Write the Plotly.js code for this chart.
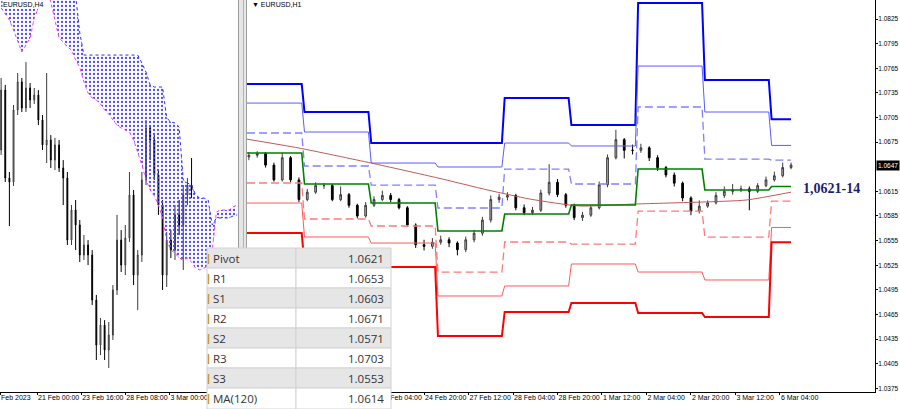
<!DOCTYPE html>
<html><head><meta charset="utf-8">
<script src="https://cdn.plot.ly/plotly-3.0.1.min.js"></script>
<style>html,body{margin:0;padding:0;background:#fff;}#chart{width:900px;height:409px;}</style>
</head><body><div id="chart"></div>
<script>
// ---------- Left panel: EURUSD H4 (bar index, 0 = 21 Feb 00:00) ----------
const h4Index = [-13,-11.5,-10,-8.5,-7,-5.5,-4,-2.5,-1,0.5,2,3.5,5,6.5,8,9.5,11,12.5,14,15.5,17,18.5,20,21.5,23,24.5,26,27.5,29,30.5,32,33.5,35,36.5,38,39.5,41,42.5,44,45.5,47,48.5,50,51.5,53,54.5,56];
const h4Open  = [1.06724,1.07101,1.06548,1.06523,1.06976,1.07152,1.06988,1.07114,1.07038,1.0707,1.06913,1.06756,1.06787,1.06661,1.06756,1.06611,1.06548,1.06158,1.06347,1.06253,1.06064,1.06127,1.06064,1.05781,1.05498,1.05624,1.05467,1.05561,1.05844,1.06158,1.06001,1.06171,1.06441,1.05938,1.06064,1.06536,1.06862,1.06787,1.06567,1.06378,1.05938,1.06158,1.06095,1.06316,1.06253,1.06441,1.06504];
const h4High  = [1.07177,1.07133,1.06586,1.07007,1.07208,1.07177,1.07277,1.07145,1.07114,1.07101,1.06944,1.07208,1.06818,1.068,1.06787,1.06661,1.06586,1.06378,1.0641,1.06284,1.0619,1.06158,1.06095,1.05813,1.05668,1.05655,1.05643,1.05875,1.06316,1.06221,1.06253,1.06586,1.06473,1.06095,1.06586,1.06913,1.06881,1.06818,1.06598,1.0641,1.06209,1.06221,1.06378,1.0641,1.06504,1.06548,1.06674];
const h4Low   = [1.06693,1.06523,1.06246,1.06498,1.06944,1.06963,1.06963,1.06988,1.07013,1.06881,1.06724,1.06642,1.06611,1.06598,1.06586,1.06378,1.06127,1.06127,1.06095,1.0602,1.06033,1.06001,1.0575,1.05404,1.05435,1.05404,1.05354,1.0553,1.05813,1.05957,1.05938,1.06146,1.05875,1.05718,1.0602,1.06504,1.06661,1.06536,1.06316,1.05844,1.05863,1.06045,1.06033,1.0619,1.0597,1.06378,1.06422];
const h4Close = [1.07101,1.06548,1.06523,1.06976,1.07152,1.06988,1.07114,1.07038,1.0707,1.06913,1.06756,1.06787,1.06661,1.06756,1.06611,1.06548,1.06158,1.06347,1.06253,1.06064,1.06127,1.06064,1.05781,1.05498,1.05624,1.05467,1.05561,1.05844,1.06158,1.06001,1.06171,1.06441,1.05938,1.06064,1.06536,1.06862,1.06787,1.06567,1.06378,1.05938,1.06158,1.06095,1.06316,1.06253,1.06441,1.06504,1.06473];

// Ichimoku cloud (Senkou Span B upper, Span A lower)
const cloudIndex = [-13,-11.5,-10,-8.5,-7,-5.5,-4,-2.5,-1,0.5,2,3.5,5,6.5,8,9.5,11,12.5,14,15.5,17,18.5,20,21.5,23,24.5,26,27.5,29,30.5,32,33.5,35,36.5,38,39.5,41,42.5,44,45.5,47,48.5,50,51.5,53,54.5,56,57.5,59,60.5,62,63.5,65,66.5,68,69.5,71,72.5];
const spanB = [1.07856,1.07856,1.07856,1.07856,1.07856,1.07856,1.07856,1.07856,1.07856,1.07856,1.07856,1.07856,1.07856,1.07856,1.07856,1.07856,1.07856,1.07856,1.07698,1.0746,1.07321,1.07321,1.07321,1.07321,1.07321,1.07321,1.07321,1.07321,1.07321,1.07321,1.07321,1.07321,1.07321,1.07321,1.07271,1.07214,1.07133,1.0712,1.0712,1.0712,1.06925,1.069,1.06894,1.06869,1.06536,1.06517,1.06504,1.06441,1.06422,1.06422,1.0641,1.06253,1.06297,1.06297,1.06297,1.06297,1.06309,1.06316];
const spanA = [1.07617,1.07579,1.07541,1.07478,1.07403,1.0734,1.07384,1.07428,1.07554,1.07617,1.07654,1.0773,1.07654,1.07541,1.07428,1.07403,1.07372,1.07353,1.0729,1.07242,1.07152,1.07082,1.07051,1.07038,1.07013,1.06976,1.0695,1.06913,1.06881,1.06862,1.0685,1.06837,1.06787,1.06712,1.0663,1.06536,1.06473,1.06435,1.06378,1.06297,1.06158,1.06095,1.06077,1.06045,1.06033,1.06045,1.0602,1.05982,1.0597,1.05982,1.05995,1.06095,1.06334,1.06347,1.06347,1.06347,1.06366,1.06378];

const h4TickVals = [-13.38, 0, 16, 32, 48];
const h4TickText = ['Feb 2023', '21 Feb 00:00', '23 Feb 16:00', '28 Feb 08:00', '3 Mar 00:00'];

// ---------- Right panel: EURUSD H1 (hour index, 0 = 22 Feb 00:00) ----------
const h1Time  = [5,8,11,14,17,20,23,26,29,32,35,38,41,44,47,50,53,56,59,62,65,68,71,74,77,80,83,86,89,92,95,98,101,104,107,110,113,116,119,122,125,128,131,134,137,140,143,146,149,152,155,158,161,164,167,170,173,176,179,182,185,188,191,194,197,200];
const h1Open  = [1.0657,1.0659,1.0661,1.0647,1.0629,1.0656,1.0629,1.0605,1.0614,1.0622,1.0622,1.0605,1.0611,1.0598,1.0585,1.0598,1.0605,1.0610,1.0605,1.0595,1.0574,1.0550,1.0548,1.0553,1.0556,1.0552,1.0544,1.0556,1.0564,1.0580,1.0605,1.0608,1.0610,1.0595,1.0589,1.0592,1.0613,1.0626,1.0611,1.0598,1.0583,1.0586,1.0595,1.0623,1.0656,1.0678,1.0665,1.0665,1.0668,1.0656,1.0644,1.0635,1.0625,1.0607,1.0591,1.0597,1.0601,1.0610,1.0615,1.0617,1.0618,1.0615,1.0622,1.0629,1.0634,1.0644];
const h1High  = [1.0663,1.0664,1.0663,1.0650,1.0662,1.0658,1.0632,1.0618,1.0626,1.0625,1.0624,1.0621,1.0613,1.0600,1.0602,1.0609,1.0616,1.0613,1.0607,1.0597,1.0576,1.0556,1.0558,1.0561,1.0559,1.0554,1.0560,1.0568,1.0584,1.0610,1.0612,1.0614,1.0612,1.0599,1.0596,1.0617,1.0648,1.0630,1.0613,1.0600,1.0590,1.0598,1.0627,1.0660,1.0690,1.0680,1.0672,1.0673,1.0670,1.0659,1.0646,1.0638,1.0627,1.0609,1.0604,1.0604,1.0614,1.0621,1.0624,1.0622,1.0621,1.0625,1.0633,1.0639,1.0650,1.0650];
const h1Low   = [1.0653,1.0656,1.0644,1.0627,1.0627,1.0626,1.0602,1.0603,1.0612,1.0618,1.0603,1.0603,1.0595,1.0582,1.0583,1.0596,1.0603,1.0602,1.0593,1.0572,1.0546,1.0543,1.0545,1.0550,1.0547,1.0537,1.0541,1.0553,1.0561,1.0577,1.0601,1.0604,1.0592,1.0586,1.0586,1.0590,1.0610,1.0608,1.0595,1.0580,1.0579,1.0584,1.0593,1.0620,1.0654,1.0655,1.0660,1.0662,1.0652,1.0640,1.0632,1.0621,1.0603,1.0586,1.0588,1.0595,1.0599,1.0607,1.0611,1.0614,1.0592,1.0613,1.0620,1.0627,1.0632,1.0642];
const h1Close = [1.0659,1.0661,1.0647,1.0629,1.0656,1.0629,1.0605,1.0614,1.0622,1.0622,1.0605,1.0611,1.0598,1.0585,1.0598,1.0605,1.0610,1.0605,1.0595,1.0574,1.0550,1.0548,1.0553,1.0556,1.0552,1.0544,1.0556,1.0564,1.0580,1.0605,1.0608,1.0610,1.0595,1.0589,1.0592,1.0613,1.0626,1.0611,1.0598,1.0583,1.0586,1.0595,1.0623,1.0656,1.0678,1.0665,1.0665,1.0668,1.0656,1.0644,1.0635,1.0625,1.0607,1.0591,1.0597,1.0601,1.0610,1.0615,1.0617,1.0618,1.0615,1.0622,1.0629,1.0634,1.0644,1.0647];

// Daily pivot levels (22 Feb, 23 Feb, 24 Feb, 27 Feb, 28 Feb, 1 Mar, 2 Mar, 3 Mar, 6 Mar)
const dayStart = [0, 24, 48, 72, 96, 120, 144, 168, 192];
const levelEnd = 200;
const R3 = [1.07458,1.07117,1.06739,1.06739,1.07287,1.06958,1.08445,1.07507,1.0703];
const R2 = [1.07226,1.06873,1.06495,1.06447,1.06739,1.06703,1.07677,1.07117,1.0671];
const R1 = [1.06861,1.06459,1.06227,1.05947,1.06422,1.0624,1.07178,1.06544,1.0653];
const PP = [1.06617,1.0624,1.06008,1.05667,1.05874,1.05983,1.06422,1.06166,1.0621];
const S1 = [1.06252,1.05813,1.05728,1.05167,1.05533,1.05508,1.0591,1.05592,1.0603];
const S2 = [1.06008,1.05594,1.0552,1.04875,1.04997,1.05265,1.05167,1.0507,1.0571];
const S3 = [1.05642,1.05253,1.05228,1.04387,1.0468,1.04789,1.04668,1.04619,1.0553];

// MA(120)
const maTime  = [4, 23, 49, 73, 91, 106, 124, 144, 168, 184, 200];
const maValue = [1.06788,1.06678,1.06495,1.06313,1.06166,1.06057,1.05972,1.05996,1.0602,1.06045,1.0614];

const h1TickVals = [52, 68, 84, 100, 116, 132, 148, 164, 180, 196];
const h1TickText = ['24 Feb 04:00','24 Feb 20:00','27 Feb 12:00','28 Feb 04:00','28 Feb 20:00','1 Mar 12:00','2 Mar 04:00','2 Mar 20:00','3 Mar 12:00','6 Mar 04:00'];
const priceTicks = [1.0375,1.0405,1.0435,1.0465,1.0495,1.0525,1.0555,1.0585,1.0615,1.0675,1.0705,1.0735,1.0765,1.0795,1.0825];

// Info table
const tableLabels = ['Pivot','R1','S1','R2','S2','R3','S3','MA(120)'];
const tableValues = ['1.0621','1.0653','1.0603','1.0671','1.0571','1.0703','1.0553','1.0614'];
const levelNote = '1,0621-14';

// ---------- build ----------
const PX = x => x / 900;
const PY = y => 1 - y / 409;
const tickFont = {family: 'Liberation Sans, Arial, sans-serif', size: 7, color: '#000'};
const priceFont = {family: 'Liberation Sans, Arial, sans-serif', size: 6.5, color: '#000'};

function stepLine(levels) {
  const xs = [], ys = [];
  for (let i = 0; i < levels.length; i++) {
    const s = dayStart[i] + (i === 0 ? 0 : 1);
    const e = (i + 1 < dayStart.length) ? dayStart[i + 1] : levelEnd;
    xs.push(s, e); ys.push(levels[i], levels[i]);
  }
  return {xs, ys};
}
function levelTrace(levels, color, width, dash) {
  const s = stepLine(levels);
  return {type: 'scatter', mode: 'lines', x: s.xs, y: s.ys, xaxis: 'x2', yaxis: 'y2',
    line: {color: color, width: width, dash: dash || 'solid'}, hoverinfo: 'skip'};
}
const candleStyle = {
  increasing: {line: {color: '#3c3c3c', width: 1}, fillcolor: '#b4b4b4'},
  decreasing: {line: {color: '#000', width: 1}, fillcolor: '#000'}
};

const traces = [
  {type: 'scatter', mode: 'lines', x: cloudIndex, y: spanB, xaxis: 'x', yaxis: 'y',
   line: {color: '#3030ff', width: 1, dash: 'dot'}, hoverinfo: 'skip'},
  {type: 'scatter', mode: 'lines', x: cloudIndex, y: spanA, xaxis: 'x', yaxis: 'y',
   fill: 'tonexty', fillcolor: 'rgba(0,0,0,0)',
   fillpattern: {shape: '.', fgcolor: '#4a4aff', bgcolor: 'rgba(0,0,0,0)', size: 4, solidity: 0.25},
   line: {color: '#ff33ff', width: 1, dash: 'dot'}, hoverinfo: 'skip'},
  Object.assign({type: 'candlestick', x: h4Index, open: h4Open, high: h4High, low: h4Low, close: h4Close,
   xaxis: 'x', yaxis: 'y', hoverinfo: 'skip'}, candleStyle),
  Object.assign({type: 'candlestick', x: h1Time, open: h1Open, high: h1High, low: h1Low, close: h1Close,
   xaxis: 'x2', yaxis: 'y2', hoverinfo: 'skip'}, candleStyle),
  {type: 'scatter', mode: 'lines', x: maTime, y: maValue, xaxis: 'x2', yaxis: 'y2',
   line: {color: '#c25a55', width: 1, shape: 'spline', smoothing: 0.6}, hoverinfo: 'skip'},
  levelTrace(R3, '#0000ff', 2),
  levelTrace(R2, '#5c5cff', 1),
  levelTrace(R1, '#8080ff', 1.3, '8px,4px'),
  levelTrace(PP, '#008000', 1.6),
  levelTrace(S1, '#ff7a7a', 1.3, '8px,4px'),
  levelTrace(S2, '#ff5a5a', 1),
  levelTrace(S3, '#ff0000', 2)
];

const shapes = [
  {type: 'rect', xref: 'paper', yref: 'paper', x0: PX(238), x1: PX(247), y0: 0, y1: 1,
   fillcolor: '#e6e6e6', line: {width: 0}, layer: 'above'},
  {type: 'line', xref: 'paper', yref: 'paper', x0: PX(238.5), x1: PX(238.5), y0: 0, y1: 1,
   line: {color: '#9a9a9a', width: 1}, layer: 'above'},
  {type: 'line', xref: 'paper', yref: 'paper', x0: PX(243.5), x1: PX(243.5), y0: 0, y1: 1,
   line: {color: '#b4b4b4', width: 1}, layer: 'above'},
  {type: 'line', xref: 'paper', yref: 'paper', x0: PX(246.5), x1: PX(246.5), y0: 0, y1: 1,
   line: {color: '#a0a0a0', width: 1}, layer: 'above'}
];
const annotations = [
  {xref: 'paper', yref: 'paper', x: PX(2), y: PY(4), xanchor: 'left', yanchor: 'middle', showarrow: false,
   text: 'EURUSD,H4', font: {family: 'Liberation Sans, Arial', size: 7, color: '#000'}, bgcolor: '#fff', borderpad: 0},
  {xref: 'paper', yref: 'paper', x: PX(250), y: PY(4), xanchor: 'left', yanchor: 'middle', showarrow: false,
   text: '▼ EURUSD,H1', font: {family: 'Liberation Sans, Arial', size: 7, color: '#000'}},
  {xref: 'paper', yref: 'paper', x: PX(831), y: PY(188), xanchor: 'center', yanchor: 'middle', showarrow: false,
   text: '<b>' + levelNote + '</b>', font: {family: 'Liberation Serif, Times New Roman, serif', size: 14, color: '#1e1e6e'}},
  {xref: 'paper', yref: 'y2', x: PX(876), y: h1Close[h1Close.length - 1], xanchor: 'left', yanchor: 'middle', showarrow: false,
   text: h1Close[h1Close.length - 1].toFixed(4), font: {family: 'Liberation Sans, Arial', size: 6.5, color: '#fff'}, bgcolor: '#000', borderpad: 1}
];

for (let i = 0; i < tableLabels.length; i++) {
  const top = 248 + 20 * i, bot = (i === tableLabels.length - 1) ? 409 : top + 20;
  const fill = (i % 2 === 0) ? '#e6e6e6' : '#ffffff';
  shapes.push({type: 'rect', xref: 'paper', yref: 'paper', x0: PX(207), x1: PX(296), y0: PY(bot), y1: PY(top),
    fillcolor: fill, line: {color: '#d2d2d2', width: 1}, layer: 'above'});
  shapes.push({type: 'rect', xref: 'paper', yref: 'paper', x0: PX(296), x1: PX(391), y0: PY(bot), y1: PY(top),
    fillcolor: fill, line: {color: '#d2d2d2', width: 1}, layer: 'above'});
  shapes.push({type: 'line', xref: 'paper', yref: 'paper', x0: PX(208.5), x1: PX(208.5), y0: PY(top + 16), y1: PY(top + 6),
    line: {color: '#c99a45', width: 1.5}, layer: 'above'});
  const cy = top + 10;
  annotations.push({xref: 'paper', yref: 'paper', x: PX(211), y: PY(cy), xanchor: 'left', yanchor: 'middle', showarrow: false,
    text: tableLabels[i], font: {family: 'Open Sans, Liberation Sans, sans-serif', size: 11.5, color: '#333'}});
  annotations.push({xref: 'paper', yref: 'paper', x: PX(386), y: PY(cy), xanchor: 'right', yanchor: 'middle', showarrow: false,
    text: tableValues[i], font: {family: 'Open Sans, Liberation Sans, sans-serif', size: 11.5, color: '#333'}});
}

const xCommon = {showgrid: false, zeroline: false, showline: true, linecolor: '#000', linewidth: 1,
  ticks: 'outside', ticklen: 2, tickcolor: '#000', tickmode: 'array', tickangle: 0,
  ticklabelposition: 'outside right', ticklabelstandoff: -1, tickfont: tickFont,
  rangeslider: {visible: false}, fixedrange: true};

const layout = {
  width: 900, height: 409, margin: {l: 0, r: 0, t: 0, b: 0},
  paper_bgcolor: '#fff', plot_bgcolor: '#fff', showlegend: false, boxgap: 0.7,
  xaxis: Object.assign({domain: [0, 238 / 900], range: [-13.406, 72.83], anchor: 'y',
    tickvals: h4TickVals, ticktext: h4TickText}, xCommon),
  yaxis: {domain: [17 / 409, 1], range: [1.05203, 1.07667], anchor: 'x', visible: false, fixedrange: true},
  xaxis2: Object.assign({domain: [247 / 900, 875 / 900], range: [4.32, 230.2], anchor: 'y2',
    tickvals: h1TickVals, ticktext: h1TickText}, xCommon),
  yaxis2: {domain: [17 / 409, 1], range: [1.03705, 1.08482], anchor: 'x2', side: 'right', showgrid: false,
    zeroline: false, showline: true, linecolor: '#000', linewidth: 1, ticks: 'outside', ticklen: 2, tickcolor: '#000',
    ticklabelstandoff: -1, tickmode: 'array', tickvals: priceTicks, ticktext: priceTicks.map(v => v.toFixed(4)),
    tickfont: priceFont, fixedrange: true},
  shapes: shapes, annotations: annotations
};

Plotly.newPlot('chart', traces, layout, {staticPlot: true, displayModeBar: false});
</script></body></html>
